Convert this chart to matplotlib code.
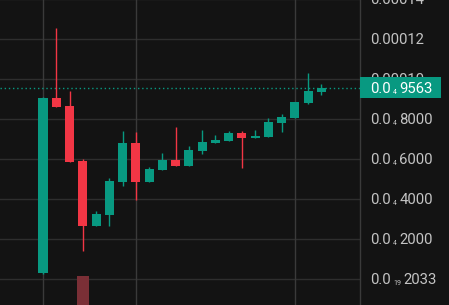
import matplotlib
matplotlib.use("Agg")
import matplotlib.pyplot as plt
from matplotlib.patches import Rectangle

plt.rcParams['font.family'] = ['Roboto', 'DejaVu Sans']

# OHLC values (units of 1e-6)
opens  = [3.0, 90.3, 86.5, 59.0, 26.7, 32.0, 48.7, 68.2, 48.7, 54.5, 59.5, 56.5, 64.0, 68.2, 69.0, 73.2, 70.5, 71.0, 78.0, 80.5, 87.8, 93.7]
highs  = [91.0, 125.3, 94.2, 59.8, 34.0, 50.3, 74.0, 73.3, 56.2, 62.8, 76.2, 66.5, 74.5, 72.0, 74.0, 74.0, 74.5, 80.7, 82.5, 88.5, 103.2, 97.5]
lows   = [2.5, 86.2, 58.7, 14.0, 26.7, 26.5, 46.5, 39.5, 48.7, 54.5, 56.7, 56.5, 62.5, 68.2, 69.0, 55.7, 70.5, 71.0, 73.5, 80.5, 87.5, 92.2]
closes = [90.5, 86.2, 58.7, 26.7, 32.5, 49.0, 68.2, 48.7, 55.0, 59.5, 56.7, 64.5, 68.5, 69.5, 73.2, 70.7, 71.5, 78.5, 81.0, 88.5, 94.0, 95.63]
volumes = [0, 0, 0, 9.5, 0, 0, 0, 0, 0, 0, 0, 0, 0, 0, 0, 0, 0, 0, 0, 0, 0, 0]
grid_x_idx = [0, 7, 19]
price_ticks = [140, 120, 100, 80, 60, 40, 20, 0.0]
# (main part, subscript, rest)
price_labels = [("0.00014", "", ""), ("0.00012", "", ""), ("0.00010", "", ""),
                ("0.0", "4", "8000"), ("0.0", "4", "6000"), ("0.0", "4", "4000"),
                ("0.0", "4", "2000"), ("0.0", "19", "2033")]
last_label = ("0.0", "4", "9563")

BG = "#131313"
GREEN = "#089981"
RED = "#f23645"
GRID = "#2e2e2e"
VGRID = "#3a3a3a"
TXT = "#c4c4c4"

W, H = 449, 305
fig = plt.figure(figsize=(W / 100, H / 100), dpi=100, facecolor=BG)
ax = fig.add_axes([0, 0, 360 / W, 1])
ax.set_facecolor(BG)
ax.set_xlim(-3.243, 23.906)
ax.set_ylim(-13.0, 139.5)
for s in ax.spines.values():
    s.set_visible(False)
ax.set_xticks([])
ax.set_yticks([])

for v in price_ticks:
    ax.axhline(v, color=GRID, lw=1.0, zorder=0)
for i in grid_x_idx:
    ax.axvline(i, color=VGRID, lw=1.0, zorder=0)

# volume overlay
vax = fig.add_axes([0, 0, 360 / W, 1], facecolor='none')
vax.set_xlim(ax.get_xlim())
vax.set_ylim(0, 100)
vax.axis('off')
vax.bar(range(len(volumes)), volumes, width=0.9, color="#7a2f36", zorder=1)

bw = 0.68
for i, (o, h, l, c) in enumerate(zip(opens, highs, lows, closes)):
    col = GREEN if c >= o else RED
    ax.plot([i, i], [l, h], color=col, lw=1.0, zorder=3, solid_capstyle='butt')
    lo, hi = min(o, c), max(o, c)
    ax.add_patch(Rectangle((i - bw / 2, lo), bw, max(hi - lo, 0.4), facecolor=col,
                           edgecolor='none', zorder=4))

# last price dotted line
ax.axhline(closes[-1], color=GREEN, lw=1.0, ls=(0, (1, 2)), zorder=2)

# price axis border
fig.add_artist(plt.Line2D([360 / W, 360 / W], [0, 1], color=VGRID, lw=1.0))

renderer = fig.canvas.get_renderer()
FS = 10.7
SUBFS = 5.0


def ypix(v):
    return 279 - 2.0 * v


def draw_label(xpix, ycenter_pix, parts, color, z=3):
    main, sub, rest = parts
    base = ycenter_pix + 5.3  # baseline in pixels from top
    fy = 1 - base / H
    t = fig.text(xpix / W, fy, main, color=color, fontsize=FS, va='baseline', ha='left', zorder=z)
    if not sub:
        return
    w = t.get_window_extent(renderer).width
    x2 = xpix + w + 2.5
    t2 = fig.text(x2 / W, 1 - (base + 0.5) / H, sub, color=color, fontsize=SUBFS,
                  va='baseline', ha='left', zorder=z)
    w2 = t2.get_window_extent(renderer).width
    x3 = x2 + w2 + 2.5
    fig.text(x3 / W, fy, rest, color=color, fontsize=FS, va='baseline', ha='left', zorder=z)


for v, lab in zip(price_ticks, price_labels):
    draw_label(370, ypix(v), lab, TXT)

yc = ypix(closes[-1])
fig.add_artist(Rectangle((360 / W, 1 - (yc + 10.5) / H), 81 / W, 21 / H,
                         transform=fig.transFigure, facecolor=GREEN, edgecolor='none', zorder=5))
draw_label(370, yc, last_label, "white", z=6)

fig.savefig("out.png", dpi=100, facecolor=BG)
